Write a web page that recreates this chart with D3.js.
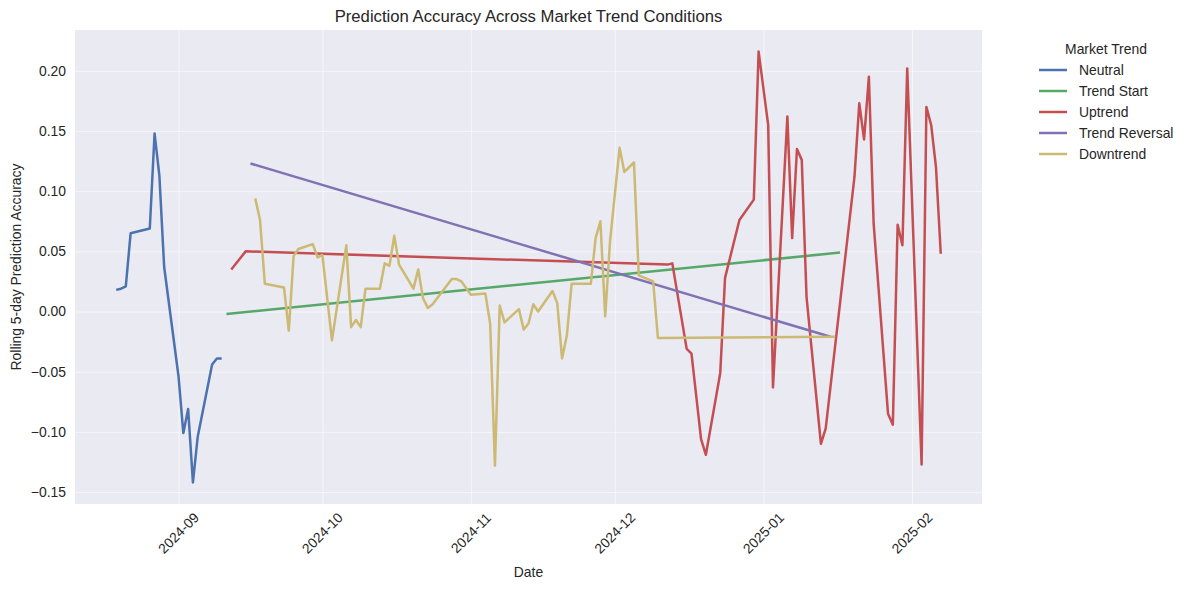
<!DOCTYPE html>
<html>
<head>
<meta charset="utf-8">
<script src="https://cdn.jsdelivr.net/npm/d3@7"></script>
<style>
  body { margin: 0; background: #ffffff; }
  text { font-family: Arial, "Liberation Sans", sans-serif; fill: #262626; }
</style>
</head>
<body>
<div id="chart"></div>
<script>
/* Values */
const trendNames = ["Neutral", "Trend Start", "Uptrend", "Trend Reversal", "Downtrend"];
const trendColors = ["#4C72B0", "#55A868", "#C44E52", "#8172B3", "#CCB974"];

const neutralDates = ["2024-08-19", "2024-08-20", "2024-08-21", "2024-08-22", "2024-08-26", "2024-08-27",
  "2024-08-28", "2024-08-29", "2024-09-01", "2024-09-02", "2024-09-03", "2024-09-04", "2024-09-05",
  "2024-09-08", "2024-09-09", "2024-09-10"];
const neutralValues = [0.018, 0.019, 0.021, 0.065, 0.069, 0.148, 0.113, 0.037, -0.054, -0.101, -0.081,
  -0.142, -0.104, -0.044, -0.039, -0.039];

const trendStartDates = ["2024-09-11", "2025-01-17"];
const trendStartValues = [-0.002, 0.049];

const uptrendDates = ["2024-09-12", "2024-09-15", "2024-12-12", "2024-12-13", "2024-12-16", "2024-12-17",
  "2024-12-19", "2024-12-20", "2024-12-23", "2024-12-24", "2024-12-25", "2024-12-27", "2024-12-30",
  "2024-12-31", "2025-01-02", "2025-01-03", "2025-01-06", "2025-01-07", "2025-01-08", "2025-01-09",
  "2025-01-10", "2025-01-13", "2025-01-14", "2025-01-20", "2025-01-21", "2025-01-22", "2025-01-23",
  "2025-01-24", "2025-01-27", "2025-01-28", "2025-01-29", "2025-01-30", "2025-01-31", "2025-02-03",
  "2025-02-04", "2025-02-05", "2025-02-06", "2025-02-07"];
const uptrendValues = [0.035, 0.050, 0.039, 0.040, -0.031, -0.035, -0.106, -0.119, -0.051, 0.028, 0.044,
  0.076, 0.093, 0.216, 0.155, -0.063, 0.162, 0.061, 0.135, 0.126, 0.012, -0.110, -0.097, 0.112, 0.173,
  0.143, 0.195, 0.073, -0.085, -0.094, 0.072, 0.055, 0.202, -0.127, 0.170, 0.155, 0.120, 0.048];

const reversalDates = ["2024-09-16", "2025-01-15"];
const reversalValues = [0.123, -0.021];

const downtrendDates = ["2024-09-17", "2024-09-18", "2024-09-19", "2024-09-23", "2024-09-24", "2024-09-25",
  "2024-09-26", "2024-09-29", "2024-09-30", "2024-10-01", "2024-10-03", "2024-10-06", "2024-10-07",
  "2024-10-08", "2024-10-09", "2024-10-10", "2024-10-13", "2024-10-14", "2024-10-15", "2024-10-16",
  "2024-10-17", "2024-10-20", "2024-10-21", "2024-10-22", "2024-10-23", "2024-10-24", "2024-10-28",
  "2024-10-29", "2024-10-30", "2024-11-01", "2024-11-04", "2024-11-05", "2024-11-06", "2024-11-07",
  "2024-11-08", "2024-11-11", "2024-11-12", "2024-11-13", "2024-11-14", "2024-11-15", "2024-11-18",
  "2024-11-19", "2024-11-20", "2024-11-21", "2024-11-22", "2024-11-26", "2024-11-27", "2024-11-28",
  "2024-11-29", "2024-11-30", "2024-12-02", "2024-12-03", "2024-12-05", "2024-12-06", "2024-12-09",
  "2024-12-10", "2025-01-16"];
const downtrendValues = [0.094, 0.076, 0.023, 0.020, -0.016, 0.046, 0.052, 0.056, 0.045, 0.047, -0.024,
  0.055, -0.013, -0.007, -0.013, 0.019, 0.019, 0.040, 0.038, 0.063, 0.039, 0.019, 0.035, 0.011, 0.003,
  0.006, 0.027, 0.027, 0.025, 0.014, 0.015, -0.010, -0.128, 0.005, -0.009, 0.002, -0.015, -0.010, 0.006,
  0.000, 0.017, 0.007, -0.039, -0.020, 0.023, 0.023, 0.061, 0.075, -0.004, 0.058, 0.136, 0.116, 0.124,
  0.030, 0.025, -0.022, -0.021];

const yTickValues = [-0.15, -0.10, -0.05, 0.00, 0.05, 0.10, 0.15, 0.20];
const xTickLabels = ["2024-09", "2024-10", "2024-11", "2024-12", "2025-01", "2025-02"];

const parseDate = d3.timeParse("%Y-%m-%d");
const parseMonth = d3.timeParse("%Y-%m");

const seriesDates = [neutralDates, trendStartDates, uptrendDates, reversalDates, downtrendDates];
const seriesValues = [neutralValues, trendStartValues, uptrendValues, reversalValues, downtrendValues];

const series = trendNames.map((name, i) => ({
  name: name,
  color: trendColors[i],
  points: seriesDates[i].map((d, j) => ({ date: parseDate(d), value: seriesValues[i][j] }))
}));

const width = 1188;
const height = 590;
const margin = { top: 30, right: 206, bottom: 86, left: 75 };
const innerWidth = width - margin.left - margin.right;
const innerHeight = height - margin.top - margin.bottom;

const svg = d3.select("#chart")
  .append("svg")
  .attr("width", width)
  .attr("height", height);

const plot = svg.append("g")
  .attr("transform", `translate(${margin.left},${margin.top})`);

/* matplotlib style 5% padding around the data */
const allPoints = series.flatMap(s => s.points);
const [tMin, tMax] = d3.extent(allPoints, d => d.date.getTime());
const tPad = (tMax - tMin) * 0.05;
const [vMin, vMax] = d3.extent(allPoints, d => d.value);
const vPad = (vMax - vMin) * 0.05;

const x = d3.scaleTime()
  .domain([new Date(tMin - tPad), new Date(tMax + tPad)])
  .range([0, innerWidth]);

const y = d3.scaleLinear()
  .domain([vMin - vPad, vMax + vPad])
  .range([innerHeight, 0]);

plot.append("rect")
  .attr("width", innerWidth)
  .attr("height", innerHeight)
  .attr("fill", "#EAEAF2");

const xTicks = xTickLabels.map(parseMonth);

/* faint white grid, axes drawn without labels */
const gridX = plot.append("g")
  .attr("transform", `translate(0,${innerHeight})`)
  .call(d3.axisBottom(x).tickValues(xTicks).tickSize(-innerHeight).tickFormat(""));

const gridY = plot.append("g")
  .call(d3.axisLeft(y).tickValues(yTickValues).tickSize(-innerWidth).tickFormat(""));

[gridX, gridY].forEach(g => {
  g.select(".domain").remove();
  g.selectAll(".tick line")
    .attr("stroke", "#ffffff")
    .attr("stroke-opacity", 0.55)
    .attr("stroke-width", 1);
});

const yFormat = d => d3.format(".2f")(d).replace("-", "\u2212");

svg.append("g")
  .selectAll("text")
  .data(yTickValues)
  .join("text")
    .attr("x", margin.left - 9)
    .attr("y", d => margin.top + y(d))
    .attr("dy", "0.35em")
    .attr("text-anchor", "end")
    .attr("font-size", 13.9)
    .text(yFormat);

svg.append("g")
  .selectAll("text")
  .data(xTicks)
  .join("text")
    .attr("text-anchor", "middle")
    .attr("dy", "0.35em")
    .attr("font-size", 13.9)
    .attr("transform", d => `translate(${margin.left + x(d)},${margin.top + innerHeight + 29}) rotate(-45)`)
    .text(d3.timeFormat("%Y-%m"));

const line = d3.line()
  .x(d => x(d.date))
  .y(d => y(d.value));

plot.append("g")
  .selectAll("path")
  .data(series)
  .join("path")
    .attr("fill", "none")
    .attr("stroke", d => d.color)
    .attr("stroke-width", 2.5)
    .attr("stroke-linejoin", "round")
    .attr("d", d => line(d.points));

svg.append("text")
  .attr("x", margin.left + innerWidth / 2)
  .attr("y", 22)
  .attr("text-anchor", "middle")
  .attr("font-size", 16.7)
  .text("Prediction Accuracy Across Market Trend Conditions");

svg.append("text")
  .attr("x", margin.left + innerWidth / 2)
  .attr("y", 577)
  .attr("text-anchor", "middle")
  .attr("font-size", 13.9)
  .text("Date");

svg.append("text")
  .attr("transform", "rotate(-90)")
  .attr("x", -(margin.top + innerHeight / 2))
  .attr("y", 21)
  .attr("text-anchor", "middle")
  .attr("font-size", 13.9)
  .text("Rolling 5-day Prediction Accuracy");

/* Legend outside the axes, on the right */
const legend = svg.append("g")
  .attr("transform", "translate(1039,0)");

legend.append("text")
  .attr("x", 67)
  .attr("y", 54)
  .attr("text-anchor", "middle")
  .attr("font-size", 13.9)
  .text("Market Trend");

const items = legend.selectAll("g.item")
  .data(series)
  .join("g")
    .attr("class", "item")
    .attr("transform", (d, i) => `translate(0,${70 + i * 21})`);

items.append("line")
  .attr("x1", 0)
  .attr("x2", 28)
  .attr("stroke", d => d.color)
  .attr("stroke-width", 2.5);

items.append("text")
  .attr("x", 40)
  .attr("y", 5)
  .attr("font-size", 13.9)
  .text(d => d.name);
</script>
</body>
</html>
